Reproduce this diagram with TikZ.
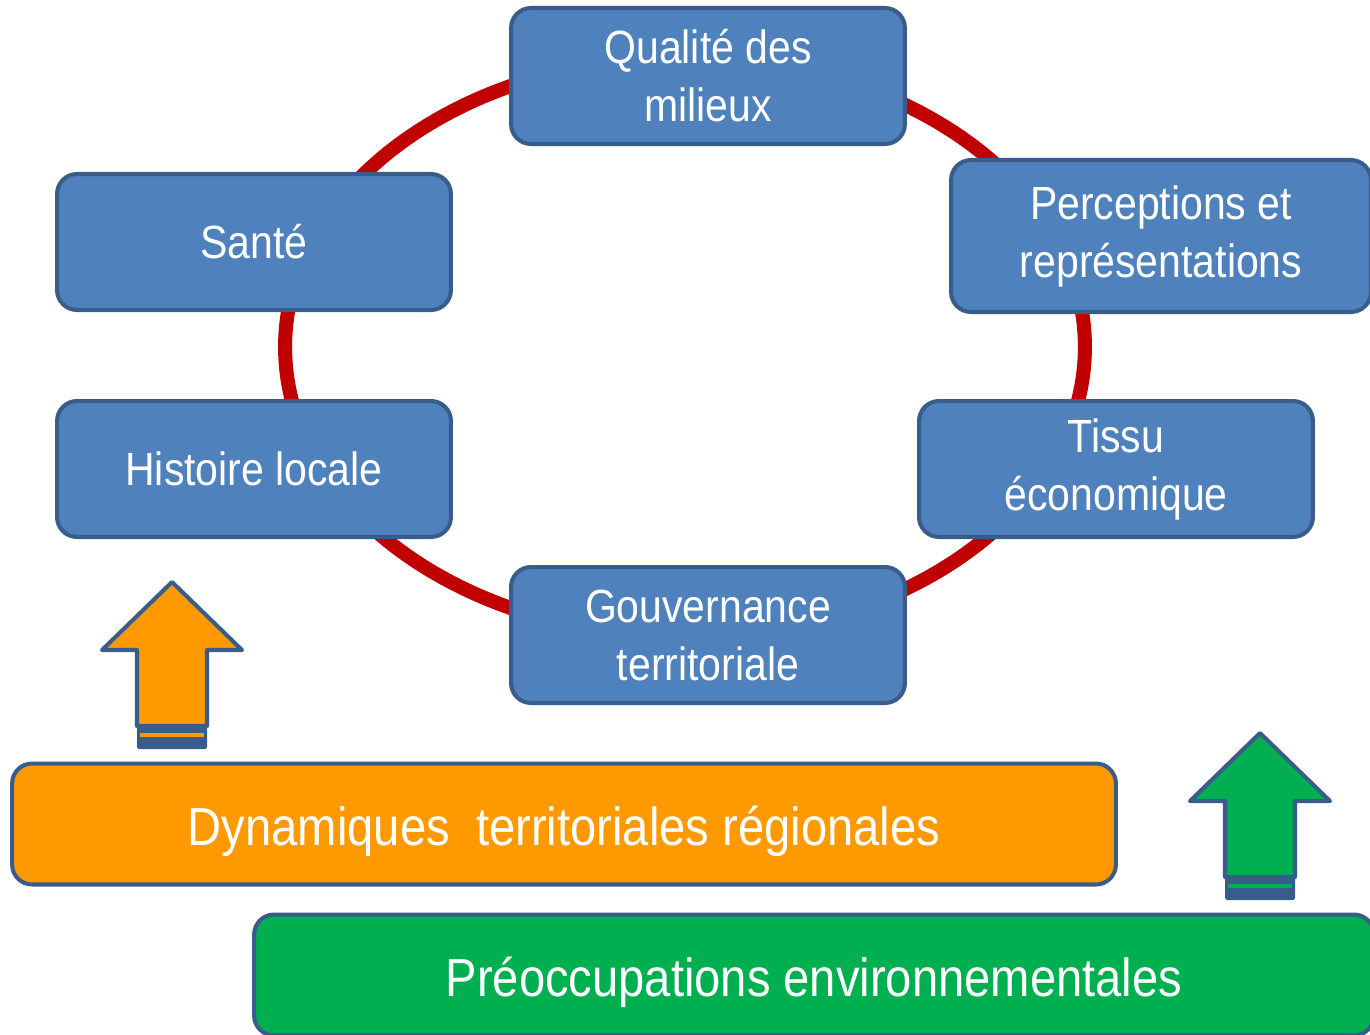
\documentclass[tikz,border=0pt]{standalone}
\usepackage{fontspec}
\setmainfont{Liberation Sans}[FakeStretch=0.88]
\definecolor{boxblue}{RGB}{79,129,189}
\definecolor{edgeblue}{RGB}{56,93,138}
\definecolor{ringred}{RGB}{192,0,0}
\definecolor{dynorange}{RGB}{255,153,0}
\definecolor{envgreen}{RGB}{0,176,80}
\begin{document}
\begin{tikzpicture}[x = 0.02cm, y = -0.02cm,
  theme/.style = {draw = edgeblue, line width = 2.3pt, rounded corners = 0.4cm, fill = boxblue,
    text = white, align = center, minimum width = 7.88cm, minimum height = 2.72cm,
    font = \fontsize{26.5}{33}\selectfont},
  band/.style = {theme, minimum height = 2.42cm, text height = 1.06cm, text depth = 0.2cm,
    font = \fontsize{30.5}{38}\selectfont},
  uparrow/.style = {draw = edgeblue, line width = 2.3pt, line join = round}]
\useasboundingbox (0,0) rectangle (1370,1035);
\draw[ringred, line width = 8pt] (685,347) ellipse [x radius = 8cm, y radius = 5.8cm];
\node[theme] (qualite) at (708,76) {Qualité des\\milieux};
\node[theme] (sante) at (254,242) {Santé};
\node[theme, minimum width = 8.4cm, minimum height = 3.04cm] (perceptions) at (1161,236) {Perceptions et\\représentations};
\node[theme] (histoire) at (254,469) {Histoire locale};
\node[theme] (tissu) at (1116,469) {Tissu\\économique};
\node[theme] (gouvernance) at (708,635) {Gouvernance\\territoriale};
\node[band, fill = dynorange, minimum width = 22.08cm] (dynamiques) at (564,824) {Dynamiques\ \ territoriales régionales};
\node[band, fill = envgreen, minimum width = 22.4cm] (preoccupations) at (814,975) {Préoccupations environnementales};
\begin{scope}[shift = {(172,582)}]
\draw[uparrow, fill = dynorange] (0,0) -- (70,68) -- (35,68) -- (35,144) -- (-35,144) -- (-35,68) -- (-70,68) -- cycle;
\fill[edgeblue, rounded corners = 1pt] (-35,144) rectangle (35,167);
\fill[dynorange] (-32,151) rectangle (32,155);
\end{scope}
\begin{scope}[shift = {(1260,733)}]
\draw[uparrow, fill = envgreen] (0,0) -- (70,68) -- (35,68) -- (35,144) -- (-35,144) -- (-35,68) -- (-70,68) -- cycle;
\fill[edgeblue, rounded corners = 1pt] (-35,144) rectangle (35,167);
\fill[envgreen] (-32,151) rectangle (32,155);
\end{scope}
\end{tikzpicture}
\end{document}
